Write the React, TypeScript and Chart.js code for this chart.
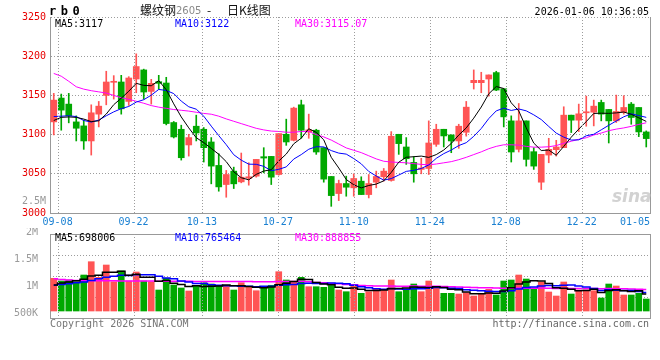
import React, { useEffect, useRef } from 'react';
import { Chart, registerables } from 'chart.js';

Chart.register(...registerables);

// ---------- data ----------
const dates = ['09-05','09-08','09-09','09-10','09-11','09-12','09-15','09-16','09-17','09-18','09-19','09-22','09-23','09-24','09-25','09-26','09-29','09-30','10-09','10-10','10-13','10-14','10-15','10-16','10-17','10-20','10-21','10-22','10-23','10-24','10-27','10-28','10-29','10-30','10-31','11-03','11-04','11-05','11-06','11-07','11-10','11-11','11-12','11-13','11-14','11-17','11-18','11-19','11-20','11-21','11-24','11-25','11-26','11-27','11-28','12-01','12-02','12-03','12-04','12-05','12-08','12-09','12-10','12-11','12-12','12-15','12-16','12-17','12-18','12-19','12-22','12-23','12-24','12-25','12-26','12-29','12-30','12-31','01-05','01-06'];

const opens = [3116.2,3146.6,3138.9,3116.2,3111.1,3091.9,3126.1,3150.0,3166.7,3167.1,
  3142.3,3170.9,3182.5,3155.1,3167.5,3165.8,3115.4,3106.8,3086.8,3110.7,
  3106.8,3090.6,3060.7,3036.3,3053.4,3039.7,3044.4,3047.0,3071.8,3072.2,
  3049.1,3100.4,3092.7,3138.0,3103.4,3105.6,3083.3,3046.6,3024.8,3037.6,
  3032.1,3040.6,3023.5,3039.3,3046.2,3041.5,3100.4,3084.2,3064.5,3055.6,
  3056.8,3087.6,3106.8,3099.6,3091.9,3103.0,3166.2,3166.2,3170.9,3179.1,
  3158.5,3117.5,3081.2,3117.5,3078.2,3039.3,3073.9,3080.8,3083.3,3124.8,
  3118.4,3127.8,3128.6,3141.0,3132.1,3117.5,3128.6,3138.9,3134.6,3103.4];

const highs = [3152.6,3151.7,3152.6,3123.9,3118.4,3138.0,3142.3,3180.8,3175.2,3175.6,
  3173.9,3203.0,3183.5,3170.5,3175.6,3173.1,3116.7,3112.0,3100.4,3124.8,
  3109.0,3096.2,3075.6,3054.3,3058.5,3076.5,3064.1,3068.4,3083.3,3072.2,
  3101.3,3119.7,3135.0,3144.0,3126.1,3106.8,3083.3,3046.6,3041.9,3047.0,
  3050.0,3046.2,3049.1,3053.4,3056.8,3103.8,3100.4,3096.2,3072.0,3069.7,
  3117.5,3113.2,3106.8,3099.6,3113.2,3142.3,3182.5,3179.5,3176.1,3180.8,
  3158.5,3123.9,3139.7,3117.5,3083.3,3074.8,3095.3,3092.7,3135.5,3124.8,
  3138.9,3149.1,3144.0,3144.0,3132.1,3150.4,3149.6,3141.0,3134.6,3104.7];

const lows = [3099.6,3105.6,3115.0,3091.9,3081.2,3073.9,3109.8,3138.0,3145.3,3126.1,
  3137.2,3153.4,3145.3,3138.9,3157.7,3112.4,3095.7,3067.5,3072.6,3091.9,
  3065.0,3037.2,3027.8,3020.1,3031.2,3038.5,3035.5,3045.7,3051.3,3036.3,
  3048.3,3086.3,3091.9,3095.3,3095.3,3074.8,3039.3,3008.5,3015.8,3021.4,
  3021.4,3023.5,3019.2,3032.1,3040.6,3040.6,3074.8,3062.0,3039.3,3050.0,
  3049.1,3085.0,3084.2,3076.9,3082.5,3098.0,3158.1,3153.4,3149.1,3156.0,
  3109.8,3065.0,3077.8,3059.8,3055.6,3029.9,3064.1,3072.6,3083.3,3102.6,
  3103.8,3110.7,3111.1,3117.5,3089.3,3115.4,3126.1,3113.2,3097.4,3084.2];

const closes = [3144.0,3131.2,3123.9,3108.1,3091.9,3127.8,3136.3,3167.1,3168.0,3132.9,
  3172.2,3186.8,3154.3,3165.4,3165.4,3114.1,3097.0,3070.5,3096.2,3102.1,
  3083.3,3059.8,3033.3,3049.1,3037.2,3045.7,3046.2,3068.4,3070.1,3045.7,
  3101.3,3090.6,3133.8,3105.6,3106.0,3077.8,3043.2,3022.2,3037.6,3032.9,
  3044.0,3023.5,3037.6,3046.6,3053.4,3097.9,3088.5,3069.2,3050.0,3057.3,
  3089.3,3106.8,3098.3,3091.9,3110.7,3135.0,3169.2,3169.2,3176.1,3156.8,
  3122.6,3077.8,3117.5,3068.4,3059.8,3074.8,3081.2,3084.2,3124.8,3118.4,
  3126.5,3129.1,3136.3,3126.1,3117.5,3129.5,3134.6,3121.8,3103.4,3094.9];

const ma5 = [3118,3122,3122.5,3122,3119.8,3116.6,3117.6,3126.2,3138.2,3146.4,
  3155.3,3165.4,3162.8,3162.3,3168.8,3157.2,3139.2,3122.5,3108.6,3096.0,
  3089.8,3082.4,3074.9,3065.5,3052.5,3045.0,3042.3,3049.3,3053.5,3055.2,
  3066.3,3075.2,3088.3,3095.4,3107.5,3102.8,3093.3,3071.0,3057.4,3042.7,
  3036.0,3032.0,3035.1,3036.9,3041.0,3051.8,3064.8,3071.1,3071.8,3072.6,
  3070.9,3074.5,3080.3,3088.7,3099.4,3108.5,3121.0,3135.2,3152.0,3161.3,
  3158.8,3140.5,3130.2,3108.6,3089.2,3079.7,3080.3,3073.7,3085.0,3096.7,
  3107.0,3116.6,3127.0,3127.3,3127.1,3127.7,3128.8,3125.9,3121.4,3116.8];

const ma10 = [3123,3123.5,3124,3123,3118,3116,3118.5,3124,3129,3133.1,
  3135.9,3141.5,3144.5,3150.3,3157.6,3156.3,3152.3,3142.7,3135.5,3132.4,
  3123.5,3110.8,3098.7,3087.1,3074.3,3067.4,3062.3,3062.1,3059.5,3053.9,
  3055.7,3058.8,3068.8,3074.5,3081.3,3084.6,3084.3,3079.6,3076.4,3075.1,
  3069.4,3062.7,3053.0,3047.1,3041.9,3043.9,3048.4,3053.1,3054.4,3056.8,
  3061.3,3069.7,3075.7,3080.3,3086.0,3089.7,3097.8,3107.8,3120.4,3130.3,
  3133.7,3130.8,3132.7,3130.3,3125.2,3119.2,3110.4,3101.9,3096.8,3093.0,
  3093.3,3098.5,3100.4,3106.1,3111.9,3117.4,3122.7,3126.5,3124.3,3122.0];

const ma30 = [3178,3174.5,3168,3161,3158,3156,3154.5,3153,3150,3147,
  3145,3142.5,3140,3137,3135,3133.5,3132,3131,3130,3128.5,
  3127,3126,3123.5,3120,3117,3114,3111,3108,3106,3104.5,
  3104,3103,3103,3104,3104,3100,3097,3093,3088,3083,
  3080,3077,3073,3069,3066,3065,3064.5,3064,3063,3062,
  3061.5,3062.5,3064,3065.5,3068,3071,3074.5,3078,3082,3085,
  3087,3087,3086.5,3085,3084,3084,3084.5,3086,3089,3091.5,
  3094,3096,3099.5,3102,3105,3107,3108.5,3110.5,3113,3115.07];

// volumes, in thousands of lots
const volumesK = [1347,1236,1277,1207,1483,2031,1388,1895,1207,1648,
  1236,1607,1236,1207,865,1347,1071,948,824,1030,
  1166,1112,1030,1030,865,1166,976,836,935,1059,
  1619,1277,1207,1388,1001,1001,976,1051,865,795,
  1030,729,795,894,865,1277,795,894,1112,795,
  1236,976,729,729,700,754,618,729,894,659,
  1236,1277,1483,1318,894,1195,783,618,1195,700,
  865,865,836,536,1112,1030,659,659,729,494];

const volMa5K = [1071,1150,1200,1250,1310,1447,1477,1601,1601,1634,
  1475,1519,1387,1387,1230,1252,1145,1088,1011,1044,
  1008,1016,1032,1074,1041,1041,1013,975,956,994,
  1085,1145,1219,1310,1298,1175,1115,1083,979,938,
  943,894,843,849,863,912,925,945,989,975,
  966,1003,970,893,874,778,706,706,739,731,
  827,959,1110,1195,1242,1233,1135,962,937,898,
  832,849,892,760,843,876,835,799,838,698.006];

const volMa10K = [1060,1090,1120,1160,1200,1260,1330,1390,1430,1472,
  1461,1498,1494,1494,1432,1364,1332,1237,1199,1137,
  1130,1081,1060,1042,1042,1024,1015,1004,1015,1018,
  1063,1079,1097,1133,1146,1130,1130,1151,1144,1118,
  1059,1004,963,914,900,928,910,894,919,919,
  939,964,957,941,924,872,854,838,816,802,
  802,833,908,967,986,1030,1047,1036,1066,1070,
  1033,992,927,849,871,854,842,846,799,765.464];

const volMa30K = [1330,1300,1280,1260,1250,1245,1245,1245,1242,1240,
  1238,1236,1234,1232,1230,1228,1226,1224,1222,1220,
  1218,1216,1215,1214,1213,1212,1211,1210,1210,1209,
  1218,1219,1217,1223,1207,1173,1159,1131,1119,1091,
  1084,1055,1040,1030,1030,1027,1018,1016,1026,1018,
  1020,1016,1006,996,990,977,965,961,960,946,
  934,934,943,940,937,943,937,922,933,930,
  925,929,931,919,927,919,914,906,894,888.855];

const priceTicks = [3000, 3050, 3100, 3150, 3200, 3250];
const dateTicks = ['09-08','09-22','10-13','10-27','11-10','11-24','12-08','12-22','01-05'];
const volTickValues = [500000, 1000000, 1500000, 2000000];

// ---------- style ----------
const RED = '#ff5454';
const GREEN = '#00a800';
const GRID = '#9c9c9c';
const AXIS = '#999999';
const MONO = "'DejaVu Sans Mono', 'Liberation Mono', monospace";
const TICK_FONT = { family: MONO, size: 10 };

const zeroPad = (s: any) => { s.paddingTop = 0; s.paddingBottom = 0; s.paddingLeft = 0; s.paddingRight = 0; };

// dotted vertical date lines through the 'xg' scale, drawn last so nothing covers them
const dateGridPlugin = {
  id: 'dateGrid',
  afterDraw(chart: any) {
    const sc = chart.scales.xg;
    if (!sc || !sc.ticks) return;
    const { ctx, chartArea } = chart;
    ctx.save();
    ctx.globalCompositeOperation = 'source-over';
    ctx.globalAlpha = 1;
    ctx.strokeStyle = GRID;
    ctx.lineWidth = 1;
    ctx.setLineDash([1, 2]);
    sc.ticks.forEach((t: any) => {
      if (t.value <= sc.min || t.value >= sc.max) return;
      const x = Math.round(sc.getPixelForValue(t.value)) + 0.5;
      ctx.beginPath();
      ctx.moveTo(x, chartArea.top);
      ctx.lineTo(x, chartArea.bottom);
      ctx.stroke();
    });
    ctx.restore();
  },
};

export default function App() {
  const priceRef = useRef<HTMLCanvasElement>(null);
  const volRef = useRef<HTMLCanvasElement>(null);

  useEffect(() => {
    const n = dates.length;
    const idx = dates.map((_, i) => i);
    const colors = idx.map(i => (closes[i] >= opens[i] ? RED : GREEN));

    // grid/label axis: one unit per trading day, first day at 0, last at n-1
    const gridTicks: { value: number; label: string }[] = [{ value: 0, label: '' }];
    dateTicks.forEach((d, k) => {
      const pinnedRight = k === dateTicks.length - 1;
      gridTicks.push({ value: pinnedRight ? n - 1 : dates.indexOf(d), label: d });
    });
    const labelOf = (v: number) => {
      const t = gridTicks.find(g => g.value === v);
      return t ? t.label : '';
    };

    const line = (arr: number[], color: string, width: number, stepped: any, scale = 1) => ({
      type: 'line' as const,
      data: arr.map((y, i) => ({ x: i, y: y * scale })),
      borderColor: color,
      backgroundColor: color,
      borderWidth: width,
      pointRadius: 0,
      tension: 0,
      fill: false,
      stepped,
      order: 0,
      xAxisID: 'x',
      yAxisID: 'y',
    });

    const xBars = () => ({
      type: 'linear' as const,
      min: -0.5,
      max: n - 0.5,
      offset: false,
      display: false,
    });

    const xGrid = (showLabels: boolean) => ({
      type: 'linear' as const,
      position: 'bottom' as const,
      min: 0,
      max: n - 1,
      offset: false,
      afterBuildTicks: (s: any) => { s.ticks = gridTicks.map(g => ({ value: g.value })); },
      ticks: {
        display: showLabels,
        autoSkip: false,
        maxRotation: 0,
        minRotation: 0,
        align: 'inner' as const,
        padding: 3,
        color: '#1a80d2',
        font: TICK_FONT,
        callback: (v: any) => labelOf(Number(v)),
      },
      grid: { display: false, drawTicks: false, offset: false },
      border: { display: true, color: AXIS, width: 1 },
      afterFit: (s: any) => { s.height = showLabels ? 14 : 0; zeroPad(s); },
    });

    const priceChart = new Chart(priceRef.current as HTMLCanvasElement, {
      type: 'bar',
      data: {
        datasets: [
          line(ma5, '#000000', 1, false) as any,
          line(ma10, '#0000ff', 1, false) as any,
          line(ma30, '#ff00ff', 1, false) as any,
          {
            type: 'bar',
            data: idx.map(i => ({ x: i, y: [opens[i], closes[i]] })),
            backgroundColor: colors,
            borderWidth: 0,
            barThickness: 6,
            minBarLength: 1,
            grouped: false,
            order: 1,
          } as any,
          {
            type: 'bar',
            data: idx.map(i => ({ x: i, y: [lows[i], highs[i]] })),
            backgroundColor: colors,
            borderWidth: 0,
            barThickness: 1,
            grouped: false,
            order: 2,
          } as any,
        ],
      },
      plugins: [dateGridPlugin],
      options: {
        animation: false,
        responsive: false,
        devicePixelRatio: 1,
        events: [],
        layout: { padding: { left: 8, right: 10, top: 17, bottom: 1 } },
        plugins: { legend: { display: false }, tooltip: { enabled: false }, title: { display: false } },
        scales: {
          x: xBars() as any,
          xg: xGrid(true) as any,
          y: {
            type: 'linear',
            position: 'left',
            min: 3000,
            max: 3250,
            afterBuildTicks: (s: any) => { s.ticks = priceTicks.map(v => ({ value: v })); },
            ticks: { color: '#e80000', font: TICK_FONT, padding: 4, autoSkip: false, callback: (v: any) => String(v) },
            grid: { color: GRID, lineWidth: 1, drawTicks: false },
            border: { display: true, color: AXIS, width: 1, dash: [1, 2] },
            afterFit: (s: any) => { s.width = 42; zeroPad(s); },
          },
          yr: {
            type: 'linear',
            position: 'right',
            min: 0,
            max: 1,
            ticks: { display: false },
            grid: { display: false },
            border: { display: true, color: AXIS, width: 1 },
            afterFit: (s: any) => { s.width = 0; zeroPad(s); },
          },
        },
      } as any,
    });

    const volChart = new Chart(volRef.current as HTMLCanvasElement, {
      type: 'bar',
      data: {
        datasets: [
          line(volMa5K, '#000000', 1.5, 'middle', 1000) as any,
          line(volMa10K, '#0000ff', 1.5, 'middle', 1000) as any,
          line(volMa30K, '#ff00ff', 1.5, 'middle', 1000) as any,
          {
            type: 'bar',
            data: idx.map(i => ({ x: i, y: volumesK[i] * 1000 })),
            backgroundColor: colors,
            borderWidth: 0,
            barThickness: 6,
            grouped: false,
            order: 1,
          } as any,
        ],
      },
      plugins: [dateGridPlugin],
      options: {
        animation: false,
        responsive: false,
        devicePixelRatio: 1,
        events: [],
        layout: { padding: { left: 8, right: 10, top: 6, bottom: 42 } },
        plugins: { legend: { display: false }, tooltip: { enabled: false } },
        scales: {
          x: xBars() as any,
          xg: xGrid(false) as any,
          xt: {
            type: 'linear',
            position: 'top',
            min: 0,
            max: 1,
            offset: false,
            ticks: { display: false },
            grid: { display: false },
            border: { display: true, color: AXIS, width: 1 },
            afterFit: (s: any) => { s.height = 0; zeroPad(s); },
          },
          y: { type: 'linear', display: false, min: -288000, max: 3172000 },
          yl: {
            type: 'linear',
            position: 'left',
            min: 416000,
            max: 1978000,
            afterBuildTicks: (s: any) => { s.ticks = volTickValues.map(v => ({ value: v })); },
            ticks: {
              color: '#9a9a9a',
              font: TICK_FONT,
              padding: 4,
              autoSkip: false,
              callback: (v: any) => (v >= 1e6 ? `${v / 1e6}M` : `${v / 1e3}K`),
            },
            grid: { display: false },
            border: { display: true, color: AXIS, width: 1 },
            afterFit: (s: any) => { s.width = 42; zeroPad(s); },
          },
          yg: {
            type: 'linear',
            position: 'right',
            min: 0,
            max: 4,
            afterBuildTicks: (s: any) => { s.ticks = [1, 2, 3].map(v => ({ value: v })); },
            ticks: { display: false },
            grid: { color: GRID, lineWidth: 1, drawTicks: false },
            border: { display: true, color: AXIS, width: 1, dash: [1, 2] },
            afterFit: (s: any) => { s.width = 0; zeroPad(s); },
          },
        },
      } as any,
    });

    return () => {
      priceChart.destroy();
      volChart.destroy();
    };
  }, []);

  const n = dates.length;
  const txt = (extra: any): any => ({
    position: 'absolute',
    fontFamily: MONO,
    fontSize: 10,
    lineHeight: '12px',
    whiteSpace: 'pre',
    ...extra,
  });
  const cjk = "'Noto Sans CJK SC', 'Noto Sans', sans-serif";

  return (
    <div style={{ position: 'fixed', left: 0, top: 0, width: 660, height: 360, background: '#fff', overflow: 'hidden' }}>
      <canvas ref={priceRef} width={660} height={228} style={{ position: 'absolute', left: 0, top: 0, display: 'block' }} />
      <canvas ref={volRef} width={660} height={132} style={{ position: 'absolute', left: 0, top: 228, display: 'block' }} />

      <div style={txt({ left: 49, top: 4, fontSize: 12, lineHeight: '14px', fontWeight: 'bold', letterSpacing: '4.5px', color: '#000' })}>rb0</div>
      <div style={{ position: 'absolute', left: 140, top: 2, fontFamily: cjk, fontSize: 12, lineHeight: '16px', color: '#111' }}>螺纹钢</div>
      <div style={{ position: 'absolute', left: 176, top: 3, fontFamily: "'DejaVu Sans', sans-serif", fontSize: 10, lineHeight: '16px', color: '#8a8a8a' }}>2605</div>
      <div style={{ position: 'absolute', left: 207, top: 2, fontFamily: cjk, fontSize: 12, lineHeight: '16px', color: '#111' }}>-</div>
      <div style={{ position: 'absolute', left: 227, top: 2, fontFamily: cjk, fontSize: 12, lineHeight: '16px', color: '#111' }}>日K线图</div>
      <div style={txt({ right: 11, top: 6, color: '#000' })}>2026-01-06 10:36:05</div>

      <div style={txt({ left: 55, top: 18, color: '#000' })}>{`MA5:${Math.round(ma5[n - 1])}`}</div>
      <div style={txt({ left: 175, top: 18, color: '#0000ff' })}>{`MA10:${Math.round(ma10[n - 1])}`}</div>
      <div style={txt({ left: 295, top: 18, color: '#ff00ff' })}>{`MA30:${ma30[n - 1].toFixed(2)}`}</div>

      <div style={txt({ right: 614, top: 195, color: '#9a9a9a' })}>2.5M</div>

      <div style={txt({ left: 55, top: 232, color: '#000' })}>{`MA5:${Math.round(volMa5K[n - 1] * 1000)}`}</div>
      <div style={txt({ left: 175, top: 232, color: '#0000ff' })}>{`MA10:${Math.round(volMa10K[n - 1] * 1000)}`}</div>
      <div style={txt({ left: 295, top: 232, color: '#ff00ff' })}>{`MA30:${Math.round(volMa30K[n - 1] * 1000)}`}</div>

      <div style={{ position: 'absolute', left: 612, top: 186, fontFamily: "'DejaVu Sans', sans-serif", fontStyle: 'italic', fontWeight: 'bold', fontSize: 17, lineHeight: '20px', color: '#d2d2d2' }}>sina</div>

      <div style={txt({ left: 50, top: 318, color: '#777' })}>Copyright 2026 SINA.COM</div>
      <div style={txt({ right: 11, top: 318, color: '#666' })}>http://finance.sina.com.cn</div>
    </div>
  );
}
